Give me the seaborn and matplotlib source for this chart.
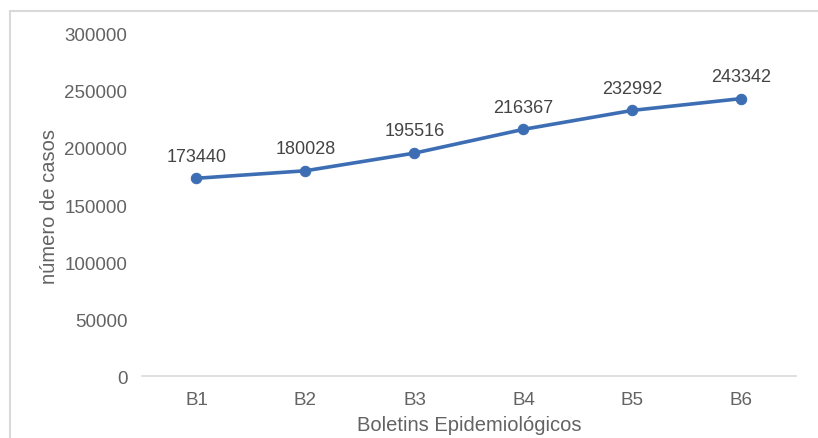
import matplotlib
matplotlib.use("Agg")
import matplotlib.pyplot as plt
from matplotlib.lines import Line2D
import seaborn as sns
import pandas as pd

boletins = ["B1", "B2", "B3", "B4", "B5", "B6"]
casos = [173440, 180028, 195516, 216367, 232992, 243342]
y_ticks = [0, 50000, 100000, 150000, 200000, 250000, 300000]

sns.set_theme(style="white")
plt.rcParams["font.family"] = ["Liberation Sans", "DejaVu Sans"]

text_gray = "#636363"
label_gray = "#444444"
line_blue = "#3D6EB4"

df = pd.DataFrame({"boletim": boletins, "casos": casos})

fig = plt.figure(figsize=(8.18, 4.39), dpi=100)
ax = fig.add_axes([0.1736, 0.1412, 0.7994, 0.7791])

sns.lineplot(data=df, x="boletim", y="casos", ax=ax, color=line_blue,
             linewidth=2.6, marker="o", markersize=7.5,
             markeredgecolor=line_blue, sort=False)

for i, v in enumerate(casos):
    ax.annotate(f"{v}", (i, v), xytext=(0, 16), textcoords="offset points",
                ha="center", va="center", fontsize=13, color=label_gray)

ax.set_xlim(-0.5, len(boletins) - 0.5)
ax.set_ylim(0, 300000)
ax.set_yticks(y_ticks)
ax.set_yticklabels([str(t) for t in y_ticks])

for side in ["top", "right", "left"]:
    ax.spines[side].set_visible(False)
ax.spines["bottom"].set_color("#d9d9d9")
ax.spines["bottom"].set_linewidth(1.2)

ax.tick_params(axis="both", length=0, labelsize=13.5, colors=text_gray)
ax.tick_params(axis="y", pad=10.5)
ax.tick_params(axis="x", pad=11)

ax.set_xlabel("Boletins Epidemiológicos", fontsize=14.5, color=text_gray, labelpad=5)
ax.set_ylabel("número de casos", fontsize=14.5, color=text_gray, labelpad=4)

# light frame around the chart area
frame_color = "#d9d9d9"
fig.add_artist(Line2D([10 / 818, 10 / 818], [0, 1 - 12 / 439],
                      transform=fig.transFigure, color=frame_color, linewidth=1.5))
fig.add_artist(Line2D([10 / 818, 1], [1 - 12 / 439, 1 - 12 / 439],
                      transform=fig.transFigure, color=frame_color, linewidth=1.5))

fig.savefig("out.png", dpi=100)
